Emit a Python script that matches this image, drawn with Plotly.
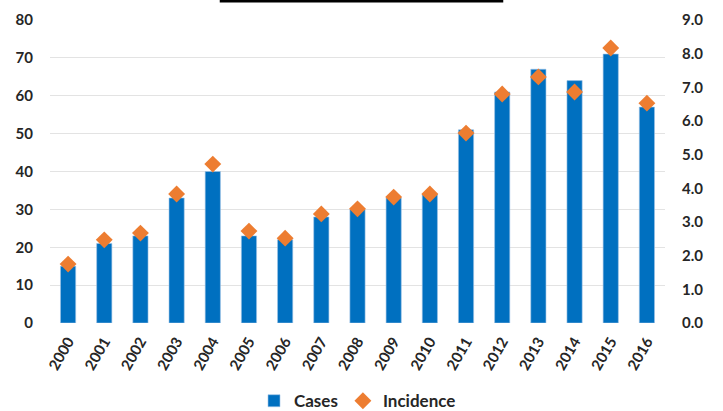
import plotly.graph_objects as go

years = [str(y) for y in range(2000, 2017)]
cases = [15, 21, 23, 33, 40, 23, 22, 28, 30, 33, 34, 51, 61, 67, 64, 71, 57]
incidence = [1.75, 2.47, 2.67, 3.83, 4.72, 2.73, 2.52, 3.24, 3.39, 3.74,
             3.83, 5.64, 6.80, 7.31, 6.86, 8.17, 6.53]
left_ticks = [0, 10, 20, 30, 40, 50, 60, 70, 80]
right_ticks = [0, 1, 2, 3, 4, 5, 6, 7, 8, 9]

font_family = "Lato, 'Noto Sans', sans-serif"
tick_font = dict(family=font_family, size=15, color="#262626", weight="bold")

fig = go.Figure()

fig.add_trace(go.Bar(
    x=years, y=cases, name="Cases",
    marker=dict(color="#0070C0", line=dict(color="#9DC3E6", width=0.6)),
))

fig.add_trace(go.Scatter(
    x=years, y=incidence, name="Incidence", yaxis="y2",
    mode="markers",
    marker=dict(symbol="diamond", size=13, color="#ED7D31"),
))

fig.update_layout(
    width=723, height=411,
    margin=dict(l=50, r=58, t=20, b=88, autoexpand=False),
    paper_bgcolor="white", plot_bgcolor="white",
    bargap=0.58,
    showlegend=True,
    legend=dict(orientation="h", x=0.5, xanchor="center", y=-0.258, yanchor="middle",
                font=dict(family=font_family, size=17, color="#262626", weight="bold"),
                itemwidth=30, traceorder="normal"),
    xaxis=dict(tickangle=-60, tickfont=tick_font, showgrid=False, showline=False,
               ticks="", ticklabelstandoff=6, range=[-0.5, 16.5], automargin=False),
    yaxis=dict(range=[0, 80], tickvals=left_ticks, tickfont=tick_font,
               showgrid=True, gridcolor="#E3E3E3", gridwidth=1, zeroline=False,
               ticklabelstandoff=16, automargin=False),
    yaxis2=dict(range=[0, 9], tickvals=right_ticks, tickformat=".1f", tickfont=tick_font,
                overlaying="y", side="right", showgrid=False, zeroline=False,
                ticklabelstandoff=16, automargin=False),
    # bottom edge of a title box that is cut off above the chart
    shapes=[dict(type="line", xref="paper", yref="paper",
                 x0=0.276, x1=0.737, y0=1.063, y1=1.063,
                 line=dict(color="black", width=3))],
)

# drop the default page margin so the figure sits at the window's corner
fig.write_html("out.html", config={"displayModeBar": False},
               post_script="document.body.style.margin='0';")
